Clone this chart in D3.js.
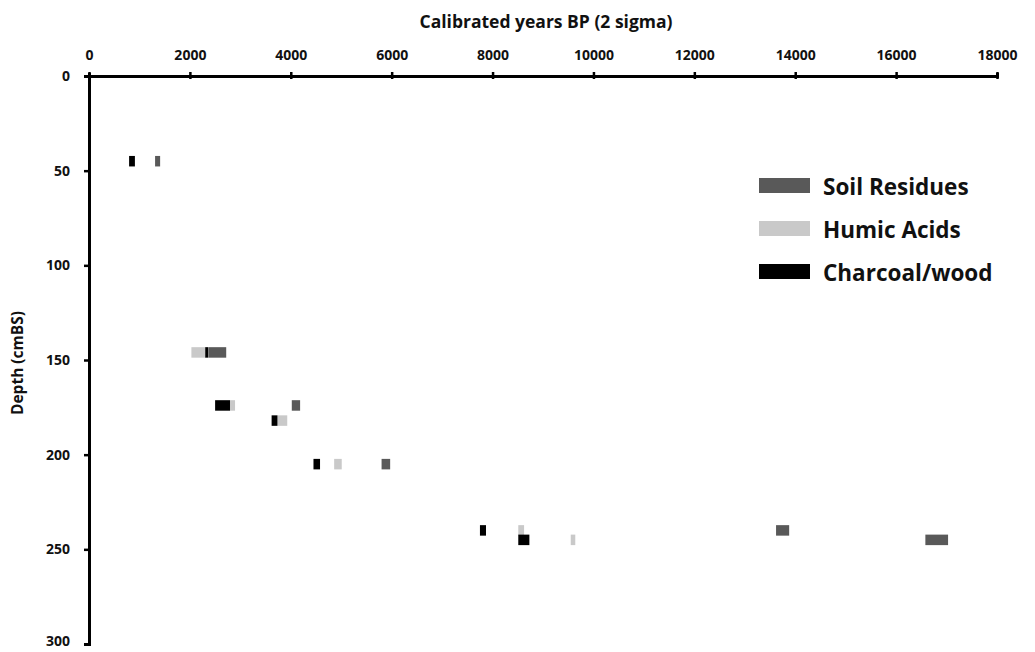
<!DOCTYPE html>
<html>
<head>
<meta charset="utf-8">
<script src="https://cdn.jsdelivr.net/npm/d3@7"></script>
<style>
  body { margin: 0; background: #fff; }
  svg text { font-family: "Open Sans", sans-serif; font-weight: bold; fill: #111; }
</style>
</head>
<body>
<div id="chart"></div>
<script>
// ---------- data (depth in cmBS, start/end in cal years BP) ----------
const seriesNames = ['Soil Residues', 'Humic Acids', 'Charcoal/wood'];
const seriesColors = ['#595959', '#c9c9c9', '#000000'];

const soilResidues = [
    { depth: 45, start: 1310, end: 1410 },
    { depth: 146, start: 2370, end: 2720 },
    { depth: 174, start: 4020, end: 4185 },
    { depth: 205, start: 5800, end: 5970 },
    { depth: 240, start: 13620, end: 13880 },
    { depth: 245, start: 16580, end: 17030 }
];
const humicAcids = [
    { depth: 146, start: 2030, end: 2320 },
    { depth: 174, start: 2790, end: 2895 },
    { depth: 182, start: 3730, end: 3930 },
    { depth: 205, start: 4860, end: 5010 },
    { depth: 240, start: 8510, end: 8625 },
    { depth: 245, start: 9550, end: 9640 }
];
const charcoalWood = [
    { depth: 45, start: 795, end: 910 },
    { depth: 146, start: 2305, end: 2365 },
    { depth: 174, start: 2500, end: 2795 },
    { depth: 182, start: 3620, end: 3735 },
    { depth: 205, start: 4450, end: 4580 },
    { depth: 240, start: 7750, end: 7870 },
    { depth: 245, start: 8510, end: 8730 }
];
const xTicks = [0, 2000, 4000, 6000, 8000, 10000, 12000, 14000, 16000, 18000];
const yTicks = [0, 50, 100, 150, 200, 250, 300];

// ---------- layout ----------
const W = 1035, H = 652;
const margin = { top: 76, left: 89, right: 38, bottom: 8 };
const barH = 10.5;

const svg = d3.select('#chart').append('svg')
    .attr('width', W)
    .attr('height', H);

const x = d3.scaleLinear().domain([0, 18000]).range([margin.left, W - margin.right]);
const y = d3.scaleLinear().domain([0, 300]).range([margin.top, H - margin.bottom]);

// bars: soil first, humic over it, charcoal on top
const allSeries = [soilResidues, humicAcids, charcoalWood];
allSeries.forEach((data, i) => {
    svg.append('g').selectAll('rect')
        .data(data)
        .enter().append('rect')
        .attr('x', d => x(d.start))
        .attr('width', d => x(d.end) - x(d.start))
        .attr('y', d => y(d.depth) - barH / 2)
        .attr('height', barH)
        .attr('fill', seriesColors[i]);
});

// axes
const xAxis = svg.append('g')
    .attr('transform', `translate(0,${margin.top})`)
    .call(d3.axisTop(x).tickValues(xTicks).tickFormat(d3.format('d')).tickSize(3).tickPadding(13));
const yAxis = svg.append('g')
    .attr('transform', `translate(${margin.left},0)`)
    .call(d3.axisLeft(y).tickValues(yTicks).tickSize(5).tickPadding(14));

[xAxis, yAxis].forEach(g => {
    g.select('.domain').attr('stroke', '#000').attr('stroke-width', 3);
    g.selectAll('.tick line').attr('stroke', '#000').attr('stroke-width', 2.5);
    g.selectAll('.tick text').style('font-size', '14px').attr('fill', '#111');
});
// x ticks cross the axis line a little
xAxis.selectAll('.tick line').attr('y2', 3).attr('y1', -4);
xAxis.selectAll('.tick text').attr('dy', '0');
// bottom label sits right at the page edge, lift it a touch
yAxis.selectAll('.tick text').filter(d => d === 300).attr('dy', '0.1em');

// axis titles
svg.append('text')
    .attr('x', 546)
    .attr('y', 28)
    .attr('text-anchor', 'middle')
    .style('font-size', '17.5px')
    .text('Calibrated years BP (2 sigma)');

svg.append('text')
    .attr('transform', `translate(23,363) rotate(-90)`)
    .attr('text-anchor', 'middle')
    .style('font-size', '15.5px')
    .text('Depth (cmBS)');

// legend
const legend = svg.append('g').attr('transform', 'translate(759,178)');
seriesNames.forEach((name, i) => {
    const row = legend.append('g').attr('transform', `translate(0,${i * 43})`);
    row.append('rect')
        .attr('width', 51)
        .attr('height', 15)
        .attr('fill', seriesColors[i]);
    row.append('text')
        .attr('x', 64)
        .attr('y', 17)
        .style('font-size', '22.5px')
        .text(name);
});
</script>
</body>
</html>
